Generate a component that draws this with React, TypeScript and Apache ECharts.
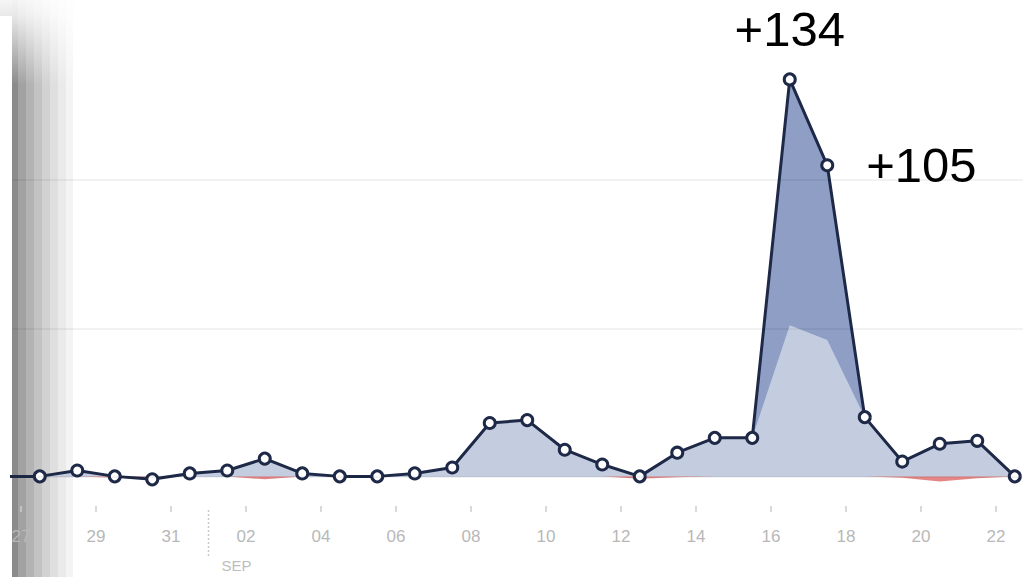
import React, { useEffect, useRef } from "react";
import * as echarts from "echarts";

// ---- data ----
const dates = [
  "08-26", "08-27", "08-28", "08-29", "08-30", "08-31",
  "09-01", "09-02", "09-03", "09-04", "09-05", "09-06", "09-07", "09-08",
  "09-09", "09-10", "09-11", "09-12", "09-13", "09-14", "09-15", "09-16",
  "09-17", "09-18", "09-19", "09-20", "09-21", "09-22",
];
// net new likes (line and total area)
const netLikes = [0, 0, 2, 0, -1, 1, 2, 6, 1, 0, 0, 1, 3, 18, 19, 9, 4, 0, 8, 13, 13, 134, 105, 20, 5, 11, 12, 0];
// organic part of the likes (light area)
const organicLikes = [0, 0, 2, 0, 0, 1, 2, 6, 1, 0, 0, 1, 3, 18, 19, 9, 4, 0, 8, 13, 13, 51, 46, 20, 5, 11, 12, 0];
// unlikes (red area below zero)
const unlikes = [0, 0, 0, -0.5, -0.3, 0, 0, -1, 0, 0, 0, 0, 0, 0, 0, 0, 0, -0.8, -0.3, 0, 0, 0, 0, 0, -0.5, -1.7, -0.6, 0];
const tickLabels = ["27", "29", "31", "02", "04", "06", "08", "10", "12", "14", "16", "18", "20", "22"];
const gridValues = [0, 50, 100];
const labeledDates = ["09-16", "09-17"];
const monthStart = "09-01";
const monthLabel = "SEP";

// day offset from Aug 27 00:00
const dayStart = (s: string) => {
  const [m, d] = s.split("-").map(Number);
  return (Date.UTC(2013, m - 1, d) - Date.UTC(2013, 7, 27)) / 86400000;
};
const xOf = (s: string) => dayStart(s) + 0.5;
const tickValues = tickLabels.map((_, i) => i * 2);

const LINE = "#1d2947";

function mix(hex: string, t: number) {
  const n = parseInt(hex.slice(1), 16);
  const r = (n >> 16) & 255, g = (n >> 8) & 255, b = n & 255;
  const f = (c: number) => Math.round(c + (255 - c) * t);
  return `rgb(${f(r)},${f(g)},${f(b)})`;
}

const shadowCols = [
  { x: 12, w: 6, c: "#8b8b8b" },
  { x: 18, w: 8, c: "#a2a2a2" },
  { x: 26, w: 8, c: "#b3b3b3" },
  { x: 34, w: 8, c: "#c3c3c3" },
  { x: 42, w: 8, c: "#d2d2d2" },
  { x: 50, w: 8, c: "#dfdfdf" },
  { x: 58, w: 8, c: "#eaeaea" },
  { x: 66, w: 7, c: "#f4f4f4" },
];

export default function App() {
  const ref = useRef<HTMLDivElement>(null);
  useEffect(() => {
    if (!ref.current) return;
    const chart = echarts.init(ref.current, null, { renderer: "svg" });
    const pairs = (arr: number[]) => dates.map((d, i) => [xOf(d), arr[i]]);
    const netData = dates.map((d, i) => {
      const item: any = { value: [xOf(d), netLikes[i]] };
      const li = labeledDates.indexOf(d);
      if (li === 0) {
        item.label = { show: true, position: "top", distance: 19 };
      } else if (li === 1) {
        item.label = { show: true, position: "right", distance: 32 };
      }
      return item;
    });

    const shadow: any[] = shadowCols.map((s) => ({
      type: "rect",
      silent: true,
      z: 0,
      shape: { x: s.x, y: 0, width: s.w, height: 577 },
      style: {
        fill: new echarts.graphic.LinearGradient(0, 0, 0, 1, [
          { offset: 0, color: mix(s.c, 0.9) },
          { offset: 16 / 577, color: mix(s.c, 0.8) },
          { offset: 85 / 577, color: s.c },
          { offset: 1, color: s.c },
        ]),
      },
    }));
    shadow.push({
      type: "rect",
      silent: true,
      z: 0,
      shape: { x: 0, y: 0, width: 12, height: 16 },
      style: {
        fill: new echarts.graphic.LinearGradient(0, 0, 0, 1, [
          { offset: 0, color: "#f6f6f6" },
          { offset: 1, color: "#e9e9e9" },
        ]),
      },
    });

    chart.setOption({
      animation: false,
      backgroundColor: "#ffffff",
      grid: { left: 12, right: 0, top: 32, bottom: 71 },
      xAxis: {
        type: "value",
        min: -0.24,
        max: 26.72,
        axisLine: { show: false, onZero: false },
        splitLine: { show: false },
        axisTick: {
          show: true,
          customValues: tickValues,
          length: 6,
          lineStyle: { color: "#cdcdcd", width: 1.5 },
        },
        axisLabel: {
          customValues: tickValues,
          formatter: (v: number) => tickLabels[Math.round(v / 2)] ?? "",
          margin: 22,
          fontSize: 17,
          color: "#b8b8b8",
          fontFamily: "Liberation Sans",
        },
      },
      yAxis: {
        type: "value",
        min: -10,
        max: 150,
        show: false,
        splitLine: { show: false },
      },
      series: [
        {
          type: "line",
          name: "total",
          data: pairs(netLikes),
          symbol: "none",
          lineStyle: { width: 0 },
          areaStyle: { color: "#8e9ec5", opacity: 1 },
          z: 2,
        },
        {
          type: "line",
          name: "organic",
          data: pairs(organicLikes),
          symbol: "none",
          lineStyle: { width: 0 },
          areaStyle: { color: "#c4cde0", opacity: 1 },
          z: 2,
        },
        {
          type: "line",
          name: "unlikes",
          data: pairs(unlikes),
          symbol: "none",
          lineStyle: { width: 0 },
          areaStyle: { color: "#e58585", opacity: 1 },
          z: 2,
        },
        {
          type: "line",
          name: "net",
          data: netData,
          z: 4,
          symbol: "circle",
          symbolSize: 11,
          lineStyle: { color: LINE, width: 3 },
          itemStyle: { color: "#ffffff", borderColor: LINE, borderWidth: 3 },
          label: {
            show: false,
            formatter: (p: any) => "+" + p.value[1],
            fontSize: 49,
            color: "#000000",
            fontFamily: "Liberation Sans",
          },
          markLine: {
            silent: true,
            symbol: ["none", "none"],
            label: { show: false },
            lineStyle: { color: "rgba(0,0,0,0.07)", type: "solid", width: 1.5 },
            data: gridValues.map((v) => ({ yAxis: v })),
          },
        },
      ],
      graphic: shadow,
    });

    const sepX = chart.convertToPixel({ xAxisIndex: 0 }, dayStart(monthStart)) as number;
    chart.setOption({
      graphic: [
        ...shadow,
        {
          type: "line",
          silent: true,
          z: 1,
          shape: { x1: sepX, y1: 510, x2: sepX, y2: 557 },
          style: { stroke: "#c9c9c9", lineWidth: 1.5, lineDash: [2, 2] },
        },
        {
          type: "text",
          silent: true,
          z: 1,
          x: sepX + 13,
          y: 565,
          style: {
            text: monthLabel,
            fontSize: 15,
            fill: "#bdbdbd",
            fontFamily: "Liberation Sans",
            verticalAlign: "middle",
          },
        },
      ],
    });

    return () => chart.dispose();
  }, []);
  return (
    <div
      ref={ref}
      style={{ position: "absolute", left: 0, top: 0, width: 1023, height: 577 }}
    />
  );
}
